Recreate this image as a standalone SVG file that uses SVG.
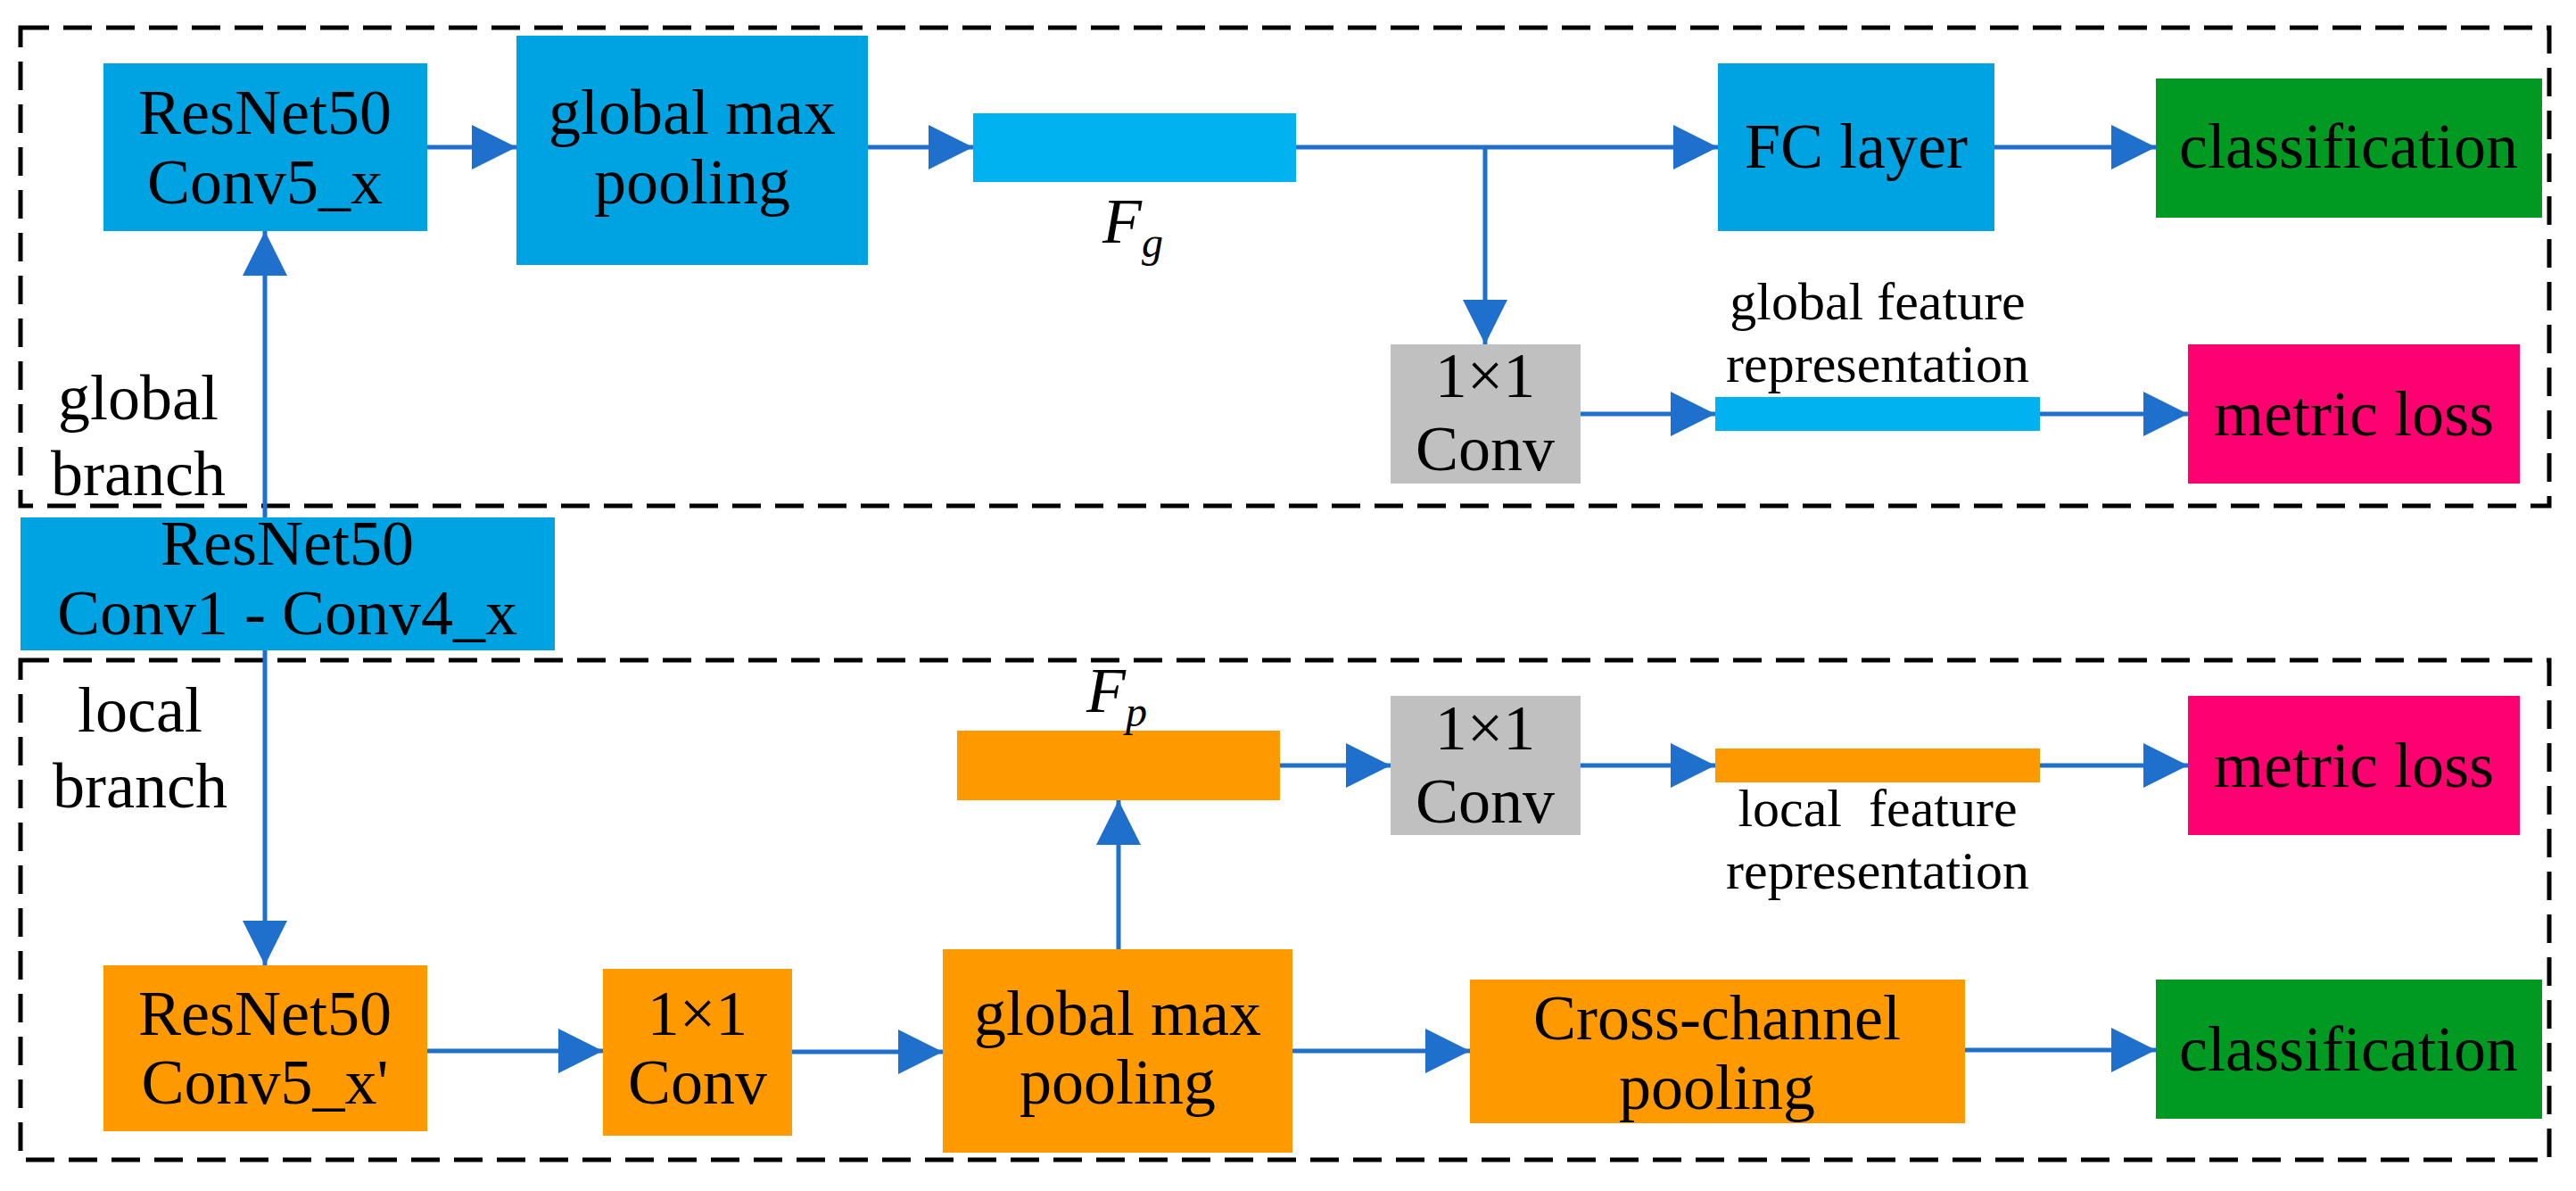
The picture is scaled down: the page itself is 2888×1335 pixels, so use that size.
<svg xmlns="http://www.w3.org/2000/svg" width="2888" height="1335" viewBox="0 0 2888 1335">
<defs>
<style>
text{font-family:"Liberation Serif","Times New Roman",serif;font-size:72px;fill:#000;text-anchor:middle}
.it{font-style:italic}
.sm{font-size:60px}
.dash{fill:none;stroke:#000;stroke-width:5;stroke-dasharray:32 16}
.ar{stroke:#1F70CC;stroke-width:5;fill:none}
.blue{fill:#00A3E2}.bar{fill:#00B2F0}.org{fill:#FF9900}.gray{fill:#C0C0C0}.grn{fill:#009A22}.pink{fill:#FF0070}
</style>
<marker id="ah" markerUnits="userSpaceOnUse" markerWidth="50" markerHeight="50" refX="50" refY="25" orient="auto">
<path d="M0,0 L50,25 L0,50 z" fill="#1F70CC"/>
</marker>
</defs>
<rect class="dash" x="23" y="31" width="2835" height="536"/>
<rect class="dash" x="23" y="740" width="2835" height="560"/>
<text x="155" y="470">global</text>
<text x="155" y="555">branch</text>
<text x="157" y="820">local</text>
<text x="157" y="905">branch</text>
<g id="conv5g"><rect class="blue" x="116" y="71" width="363" height="188"/><text x="297" y="150">ResNet50</text><text x="297" y="228">Conv5_x</text></g>
<g id="gmp1"><rect class="blue" x="579" y="40" width="394" height="257"/><text x="776" y="150">global max</text><text x="776" y="228">pooling</text></g>
<g id="fg"><rect class="bar" x="1091" y="127" width="362" height="77"/><text class="it" x="1270" y="272">F<tspan font-size="48" dy="16">g</tspan></text></g>
<g id="fc"><rect class="blue" x="1926" y="71" width="310" height="188"/><text x="2081" y="188">FC layer</text></g>
<g id="cls1"><rect class="grn" x="2417" y="88" width="433" height="156"/><text x="2633" y="188">classification</text></g>
<g id="conv1g"><rect class="gray" x="1559" y="386" width="213" height="156"/><text x="1665" y="445">1×1</text><text x="1665" y="527">Conv</text></g>
<g id="gfr"><rect class="bar" x="1923" y="445" width="364" height="38"/><text class="sm" x="2105" y="358">global feature</text><text class="sm" x="2105" y="428">representation</text></g>
<g id="ml1"><rect class="pink" x="2453" y="386" width="372" height="156"/><text x="2639" y="488">metric loss</text></g>
<g id="base"><rect class="blue" x="23" y="580" width="599" height="149"/><text x="322" y="633">ResNet50</text><text x="322" y="711">Conv1 - Conv4_x</text></g>
<g id="conv5l"><rect class="org" x="116" y="1082" width="363" height="186"/><text x="297" y="1160">ResNet50</text><text x="297" y="1237">Conv5_x'</text></g>
<g id="conv1l"><rect class="org" x="676" y="1086" width="212" height="187"/><text x="782" y="1160">1×1</text><text x="782" y="1237">Conv</text></g>
<g id="gmp2"><rect class="org" x="1057" y="1064" width="392" height="228"/><text x="1253" y="1160">global max</text><text x="1253" y="1237">pooling</text></g>
<g id="fp"><rect class="org" x="1073" y="819" width="362" height="78"/><text class="it" x="1252" y="798">F<tspan font-size="48" dy="16">p</tspan></text></g>
<g id="conv1l2"><rect class="gray" x="1559" y="780" width="213" height="156"/><text x="1665" y="840">1×1</text><text x="1665" y="922">Conv</text></g>
<g id="lfr"><rect class="org" x="1923" y="839" width="364" height="38"/><text class="sm" x="2105" y="926" xml:space="preserve">local  feature</text><text class="sm" x="2105" y="996">representation</text></g>
<g id="ml2"><rect class="pink" x="2453" y="780" width="372" height="156"/><text x="2639" y="882">metric loss</text></g>
<g id="ccp"><rect class="org" x="1648" y="1098" width="555" height="161"/><text x="1925" y="1165">Cross-channel</text><text x="1925" y="1243">pooling</text></g>
<g id="cls2"><rect class="grn" x="2417" y="1098" width="433" height="156"/><text x="2633" y="1200">classification</text></g>
<g id="connectors" class="ar">
<line x1="479" y1="165" x2="579" y2="165" marker-end="url(#ah)"/>
<line x1="973" y1="165" x2="1091" y2="165" marker-end="url(#ah)"/>
<line x1="1453" y1="165" x2="1926" y2="165" marker-end="url(#ah)"/>
<line x1="2236" y1="165" x2="2417" y2="165" marker-end="url(#ah)"/>
<line x1="1665" y1="165" x2="1665" y2="386" marker-end="url(#ah)"/>
<line x1="1772" y1="464" x2="1923" y2="464" marker-end="url(#ah)"/>
<line x1="2287" y1="464" x2="2453" y2="464" marker-end="url(#ah)"/>
<line x1="297" y1="580" x2="297" y2="259" marker-end="url(#ah)"/>
<line x1="297" y1="729" x2="297" y2="1082" marker-end="url(#ah)"/>
<line x1="479" y1="1178" x2="676" y2="1178" marker-end="url(#ah)"/>
<line x1="888" y1="1179" x2="1057" y2="1179" marker-end="url(#ah)"/>
<line x1="1254" y1="1064" x2="1254" y2="897" marker-end="url(#ah)"/>
<line x1="1435" y1="858" x2="1559" y2="858" marker-end="url(#ah)"/>
<line x1="1772" y1="858" x2="1923" y2="858" marker-end="url(#ah)"/>
<line x1="2287" y1="858" x2="2453" y2="858" marker-end="url(#ah)"/>
<line x1="1449" y1="1178" x2="1648" y2="1178" marker-end="url(#ah)"/>
<line x1="2203" y1="1177" x2="2417" y2="1177" marker-end="url(#ah)"/>
</g>
</svg>
